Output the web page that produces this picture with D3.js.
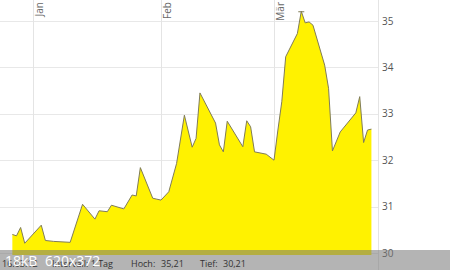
<!DOCTYPE html>
<html>
<head>
<meta charset="utf-8">
<script src="https://cdn.jsdelivr.net/npm/d3@7"></script>
<style>
body { margin: 0; background: #fff; }
svg { display: block; font-family: "Open Sans", sans-serif; }
</style>
</head>
<body>
<script>

var dates = [
    "2011-12-27", "2011-12-28", "2011-12-29", "2011-12-30",
    "2012-01-03", "2012-01-04", "2012-01-06", "2012-01-10",
    "2012-01-13", "2012-01-16", "2012-01-17", "2012-01-19",
    "2012-01-20", "2012-01-23", "2012-01-25", "2012-01-26",
    "2012-01-27", "2012-01-30", "2012-01-31", "2012-02-01",
    "2012-02-03", "2012-02-05", "2012-02-07", "2012-02-09",
    "2012-02-10", "2012-02-11", "2012-02-15", "2012-02-16",
    "2012-02-17", "2012-02-18", "2012-02-22", "2012-02-23",
    "2012-02-24", "2012-02-25", "2012-02-28", "2012-03-01",
    "2012-03-02", "2012-03-03", "2012-03-04", "2012-03-07",
    "2012-03-08", "2012-03-09", "2012-03-10", "2012-03-11",
    "2012-03-14", "2012-03-15", "2012-03-16", "2012-03-18",
    "2012-03-22", "2012-03-23", "2012-03-24", "2012-03-25",
    "2012-03-26"
];

var closes = [
    30.40, 30.37, 30.55, 30.21,
    30.60, 30.27, 30.25, 30.23,
    31.05, 30.73, 30.91, 30.89,
    31.03, 30.95, 31.25, 31.23,
    31.84, 31.18, 31.16, 31.14,
    31.32, 31.93, 32.97, 32.28,
    32.47, 33.45, 32.80, 32.33,
    32.18, 32.84, 32.29, 32.85,
    32.72, 32.18, 32.13, 32.00,
    32.65, 33.26, 34.23, 34.73,
    35.21, 34.96, 34.98, 34.91,
    34.05, 33.55, 32.20, 32.61,
    33.02, 33.37, 32.38, 32.65,
    32.67
];

var yTicks = [30, 31, 32, 33, 34, 35];
var monthTicks = ["2012-01-01", "2012-02-01", "2012-03-01"];
var monthLabels = ["Jan", "Feb", "Mär"];

var footerDate = "16.03.12";
var footerInterval = "Intervall: 1 Tag";
var imageInfo = ["18kB", "620x372"];

var W = 450, H = 270;
var plotRight = 378, plotBottom = 255;

var parseDate = d3.timeParse("%Y-%m-%d");
var fmtNum = function(v) { return v.toFixed(2).replace(".", ","); };

var data = dates.map(function(d, i) {
    return { date: parseDate(d), v: closes[i] };
});
var months = monthTicks.map(parseDate);

// month spacing in the source is uneven, so map each month start
var x = d3.scaleTime()
    .domain(months)
    .range([33, 161, 274]);

var y = d3.scaleLinear()
    .domain([30, 35])
    .range([253, 21]);

var svg = d3.select("body").append("svg")
    .attr("width", W)
    .attr("height", H);

// grid
svg.selectAll("line.hgrid")
    .data(yTicks)
    .enter()
    .append("line")
    .attr("class", "hgrid")
    .attr("x1", 0)
    .attr("x2", plotRight)
    .attr("y1", function(d) { return Math.round(y(d)) + 0.5; })
    .attr("y2", function(d) { return Math.round(y(d)) + 0.5; })
    .attr("stroke", "#e8e8e8");

svg.selectAll("line.vgrid")
    .data(months)
    .enter()
    .append("line")
    .attr("class", "vgrid")
    .attr("x1", function(d) { return Math.round(x(d)) + 0.5; })
    .attr("x2", function(d) { return Math.round(x(d)) + 0.5; })
    .attr("y1", 0)
    .attr("y2", plotBottom)
    .attr("stroke", "#e4e4e4");

svg.append("line")
    .attr("x1", plotRight + 0.5)
    .attr("x2", plotRight + 0.5)
    .attr("y1", 0)
    .attr("y2", H)
    .attr("stroke", "#e4e4e4");

// area + line
var area = d3.area()
    .x(function(d) { return x(d.date); })
    .y0(plotBottom)
    .y1(function(d) { return y(d.v); });

var line = d3.line()
    .x(function(d) { return x(d.date); })
    .y(function(d) { return y(d.v); });

svg.append("path")
    .datum(data)
    .attr("d", area)
    .attr("fill", "#fff200");

svg.append("path")
    .datum(data)
    .attr("d", line)
    .attr("fill", "none")
    .attr("stroke", "#807c58")
    .attr("stroke-width", 1);

// small cap on the high point
var hi = data.reduce(function(a, b) { return b.v > a.v ? b : a; });
svg.append("line")
    .attr("x1", x(hi.date) - 3)
    .attr("x2", x(hi.date) + 3)
    .attr("y1", y(hi.v) + 0.5)
    .attr("y2", y(hi.v) + 0.5)
    .attr("stroke", "#807c58");

// month labels, rotated
svg.selectAll("text.month")
    .data(months)
    .enter()
    .append("text")
    .attr("class", "month")
    .attr("transform", function(d) {
        return "translate(" + (x(d) + 10) + ",2) rotate(-90)";
    })
    .attr("text-anchor", "end")
    .attr("font-size", 10)
    .attr("fill", "#666")
    .text(function(d, i) { return monthLabels[i]; });

// right axis labels
svg.selectAll("text.ylab")
    .data(yTicks)
    .enter()
    .append("text")
    .attr("class", "ylab")
    .attr("x", 382)
    .attr("y", function(d) { return y(d) + 3.5; })
    .attr("font-size", 10)
    .attr("fill", "#555")
    .text(function(d) { return d; });

// footer bar
svg.append("rect")
    .attr("x", 0)
    .attr("y", 250)
    .attr("width", W)
    .attr("height", H - 250)
    .attr("fill", "rgba(118,118,118,0.55)");

var footer = svg.append("g")
    .attr("font-size", 9)
    .attr("fill", "#333");

footer.append("text").attr("x", 2).attr("y", 267).text(footerDate);
footer.append("text").attr("x", 113).attr("y", 267).attr("text-anchor", "end").text(footerInterval);
footer.append("text").attr("x", 131).attr("y", 267).text("Hoch:");
footer.append("text").attr("x", 161).attr("y", 267).text(fmtNum(d3.max(closes)));
footer.append("text").attr("x", 200).attr("y", 267).text("Tief:");
footer.append("text").attr("x", 223).attr("y", 267).text(fmtNum(d3.min(closes)));

// image info overlay, drawn over the footer like in the source
svg.append("text")
    .attr("x", 5)
    .attr("y", 266)
    .attr("font-size", 14)
    .attr("fill", "#fff")
    .text(imageInfo[0]);

svg.append("text")
    .attr("x", 45)
    .attr("y", 266)
    .attr("font-size", 14)
    .attr("fill", "#fff")
    .text(imageInfo[1]);

</script>
</body>
</html>
